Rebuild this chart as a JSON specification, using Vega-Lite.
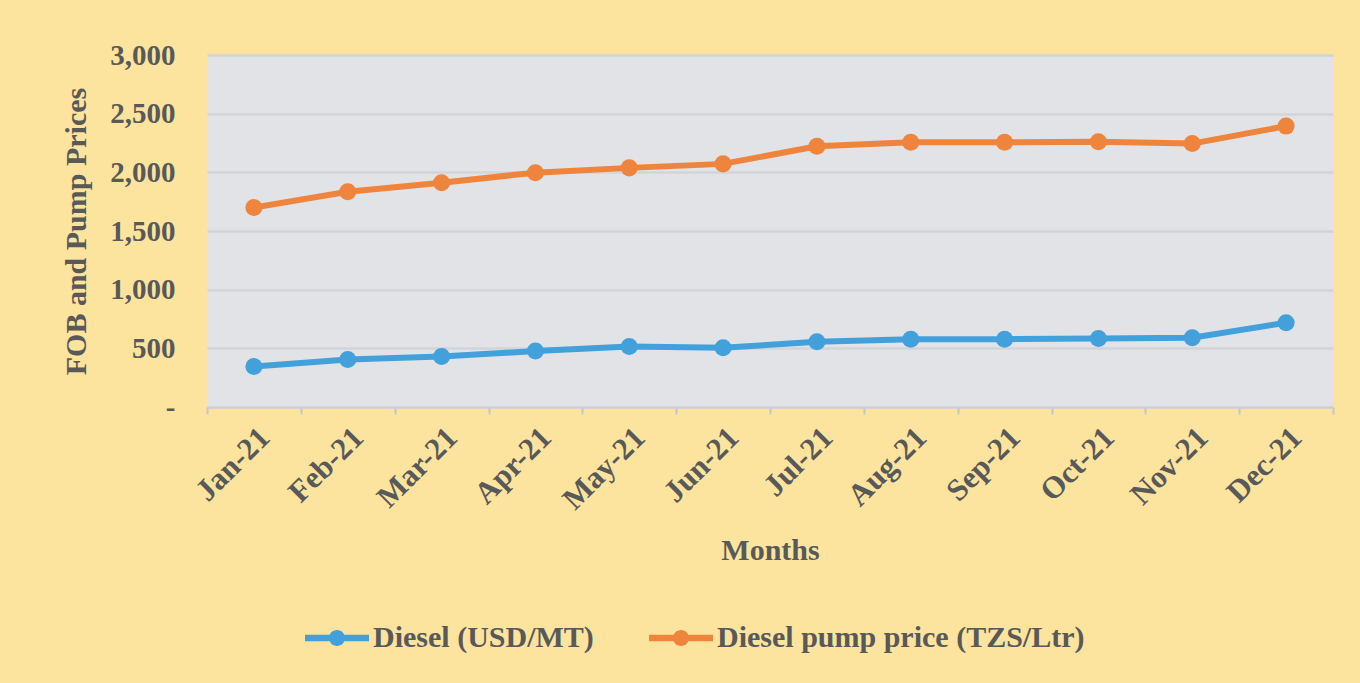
{
  "$schema": "https://vega.github.io/schema/vega-lite/v6.json",
  "width": 1126,
  "height": 352,
  "autosize": "none",
  "padding": {"left": 207, "top": 55, "right": 27, "bottom": 276},
  "background": "#FCE49E",
  "config": {
    "view": {"fill": "#E1E3E6", "stroke": null},
    "font": "Liberation Serif"
  },
  "data": {
    "values": [
      {"month": "Jan-21", "series": "Diesel (USD/MT)", "value": 345},
      {"month": "Feb-21", "series": "Diesel (USD/MT)", "value": 405},
      {"month": "Mar-21", "series": "Diesel (USD/MT)", "value": 430},
      {"month": "Apr-21", "series": "Diesel (USD/MT)", "value": 477},
      {"month": "May-21", "series": "Diesel (USD/MT)", "value": 515},
      {"month": "Jun-21", "series": "Diesel (USD/MT)", "value": 505},
      {"month": "Jul-21", "series": "Diesel (USD/MT)", "value": 556},
      {"month": "Aug-21", "series": "Diesel (USD/MT)", "value": 578},
      {"month": "Sep-21", "series": "Diesel (USD/MT)", "value": 578},
      {"month": "Oct-21", "series": "Diesel (USD/MT)", "value": 583},
      {"month": "Nov-21", "series": "Diesel (USD/MT)", "value": 590},
      {"month": "Dec-21", "series": "Diesel (USD/MT)", "value": 718},
      {"month": "Jan-21", "series": "Diesel pump price (TZS/Ltr)", "value": 1700},
      {"month": "Feb-21", "series": "Diesel pump price (TZS/Ltr)", "value": 1834},
      {"month": "Mar-21", "series": "Diesel pump price (TZS/Ltr)", "value": 1912},
      {"month": "Apr-21", "series": "Diesel pump price (TZS/Ltr)", "value": 1997},
      {"month": "May-21", "series": "Diesel pump price (TZS/Ltr)", "value": 2038},
      {"month": "Jun-21", "series": "Diesel pump price (TZS/Ltr)", "value": 2072},
      {"month": "Jul-21", "series": "Diesel pump price (TZS/Ltr)", "value": 2222},
      {"month": "Aug-21", "series": "Diesel pump price (TZS/Ltr)", "value": 2257},
      {"month": "Sep-21", "series": "Diesel pump price (TZS/Ltr)", "value": 2256},
      {"month": "Oct-21", "series": "Diesel pump price (TZS/Ltr)", "value": 2260},
      {"month": "Nov-21", "series": "Diesel pump price (TZS/Ltr)", "value": 2245},
      {"month": "Dec-21", "series": "Diesel pump price (TZS/Ltr)", "value": 2394}
    ]
  },
  "encoding": {
    "x": {
      "field": "month",
      "type": "ordinal",
      "sort": null,
      "scale": {"type": "band", "paddingInner": 0, "paddingOuter": 0},
      "axis": {
        "title": "Months",
        "titleFont": "Liberation Serif",
        "titleFontSize": 30,
        "titleFontWeight": "bold",
        "titleColor": "#595959",
        "titlePadding": 20,
        "labelAngle": -45,
        "labelFont": "Liberation Serif",
        "labelFontSize": 31,
        "labelFontWeight": "bold",
        "labelColor": "#595959",
        "labelPadding": 8,
        "tickBand": "extent",
        "tickColor": "#C4C6C8",
        "tickSize": 7,
        "tickWidth": 2,
        "domainColor": "#CDD0D2",
        "domainWidth": 2,
        "grid": false
      }
    },
    "y": {
      "field": "value",
      "type": "quantitative",
      "scale": {"domain": [0, 3000], "nice": false},
      "axis": {
        "title": "FOB and Pump Prices",
        "titleFont": "Liberation Serif",
        "titleFontSize": 30,
        "titleFontWeight": "bold",
        "titleColor": "#595959",
        "titlePadding": 18,
        "values": [0, 500, 1000, 1500, 2000, 2500, 3000],
        "labelExpr": "datum.value == 0 ? '-\u00a0\u00a0\u00a0\u00a0\u00a0' : format(datum.value, ',')",
        "labelFont": "Liberation Serif",
        "labelFontSize": 29,
        "labelFontWeight": "bold",
        "labelColor": "#595959",
        "labelPadding": 32,
        "ticks": false,
        "domain": false,
        "grid": true,
        "gridColor": "#D2D5D7",
        "gridWidth": 2.5
      }
    },
    "color": {
      "field": "series",
      "type": "nominal",
      "scale": {
        "domain": ["Diesel (USD/MT)", "Diesel pump price (TZS/Ltr)"],
        "range": ["#42A0DB", "#EF843C"]
      },
      "legend": {
        "title": null,
        "orient": "none",
        "direction": "horizontal",
        "legendX": 98,
        "legendY": 551,
        "symbolType": "M-1,-0.1L1,-0.1L1,0.1L-1,0.1Z M0.25,0A0.25,0.25,0,1,1,-0.25,0A0.25,0.25,0,1,1,0.25,0Z",
        "symbolSize": 4096,
        "symbolStrokeWidth": 0,
        "labelFont": "Liberation Serif",
        "labelFontSize": 30,
        "labelFontWeight": "bold",
        "labelColor": "#595959",
        "labelOffset": 4,
        "columnPadding": 55,
        "labelLimit": 600,
        "encode": {
          "symbols": {
            "update": {
              "fill": {"scale": "color", "field": "value"},
              "strokeWidth": {"value": 0},
              "opacity": {"value": 1}
            }
          }
        }
      }
    }
  },
  "layer": [
    {"mark": {"type": "line", "strokeWidth": 6}},
    {"mark": {"type": "point", "filled": true, "size": 290, "opacity": 1}}
  ]
}
